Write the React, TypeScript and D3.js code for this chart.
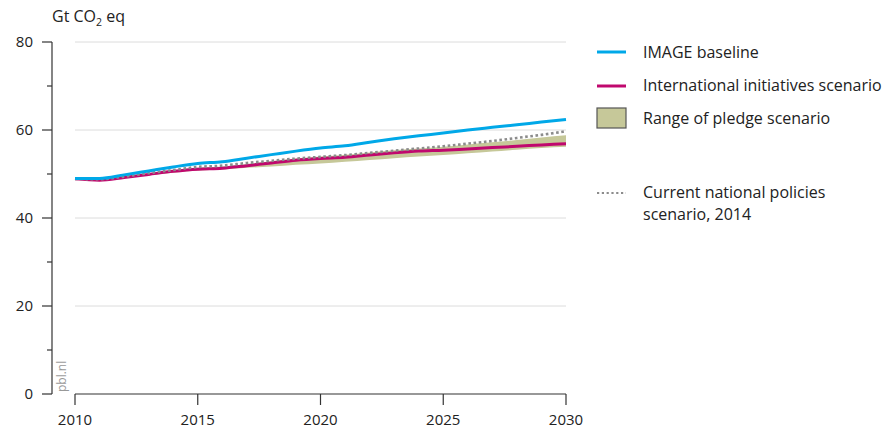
import * as d3 from "d3";

const years = [2010, 2011, 2012, 2013, 2014, 2015, 2016, 2017, 2018, 2019, 2020, 2021, 2022, 2023, 2024, 2025, 2026, 2027, 2028, 2029, 2030];
const imageBaseline = [49.0, 49.0, 49.8, 50.7, 51.6, 52.4, 52.8, 53.6, 54.4, 55.2, 55.9, 56.4, 57.2, 58.0, 58.7, 59.3, 60.0, 60.6, 61.2, 61.8, 62.4];
const internationalInitiatives = [48.9, 48.6, 49.2, 49.9, 50.6, 51.1, 51.3, 51.9, 52.5, 53.1, 53.5, 53.8, 54.3, 54.8, 55.2, 55.4, 55.7, 56.0, 56.3, 56.6, 56.9];
const currentPolicies = [48.9, 48.8, 49.4, 50.2, 50.9, 51.6, 51.9, 52.5, 53.0, 53.5, 53.9, 54.3, 54.8, 55.3, 55.8, 56.3, 56.9, 57.5, 58.2, 58.9, 59.7];
const pledgeLow = [48.9, 48.6, 49.1, 49.7, 50.3, 50.8, 51.0, 51.4, 51.7, 52.1, 52.4, 52.8, 53.2, 53.6, 54.0, 54.3, 54.7, 55.1, 55.5, 55.9, 56.2];
const pledgeHigh = [48.9, 48.7, 49.4, 50.1, 50.8, 51.4, 51.7, 52.3, 52.9, 53.5, 54.0, 54.4, 54.9, 55.4, 55.8, 56.2, 56.7, 57.2, 57.7, 58.3, 58.8];
const yTicks = [0, 20, 40, 60, 80];
const yMinorTicks = [10, 30, 50, 70];
const xTicks = [2010, 2015, 2020, 2025, 2030];

const font = "'Open Sans', sans-serif";

export default function App() {
  const width = 889;
  const height = 429;
  const x = d3.scaleLinear([2010, 2030], [75, 566]);
  const y = d3.scaleLinear([0, 80], [394, 42]);

  const rows = years.map((yr, i) => ({
    yr,
    base: imageBaseline[i],
    intl: internationalInitiatives[i],
    cur: currentPolicies[i],
    lo: pledgeLow[i],
    hi: pledgeHigh[i],
  }));

  const curve = d3.curveMonotoneX;
  const lineOf = (key: "base" | "intl" | "cur") =>
    d3.line<any>().x(d => x(d.yr)).y(d => y(d[key])).curve(curve)(rows) || "";
  const band = d3.area<any>().x(d => x(d.yr)).y0(d => y(d.lo)).y1(d => y(d.hi)).curve(curve)(rows) || "";

  const axisX = 52;

  return (
    <svg width={width} height={height} style={{ position: "absolute", left: 0, top: 0, fontFamily: font }}>
      <rect width={width} height={height} fill="white" />
      {/* gridlines */}
      {yTicks.filter(t => t > 0).map(t => (
        <line key={t} x1={x(2010)} x2={x(2030)} y1={y(t)} y2={y(t)} stroke="#dcdcdc" strokeWidth={1} />
      ))}
      {/* y axis */}
      <line x1={axisX} x2={axisX} y1={y(80)} y2={y(0)} stroke="#333" strokeWidth={1.2} />
      {yTicks.map(t => (
        <g key={t}>
          <line x1={axisX - 10} x2={axisX} y1={y(t)} y2={y(t)} stroke="#333" strokeWidth={1.2} />
          <text x={axisX - 19} y={y(t)} dy="0.35em" textAnchor="end" fontSize={15} fill="#222">{t}</text>
        </g>
      ))}
      {yMinorTicks.map(t => (
        <line key={t} x1={axisX - 5} x2={axisX} y1={y(t)} y2={y(t)} stroke="#333" strokeWidth={1.2} />
      ))}
      <text x={axisX} y={22} fontSize={16} fill="#222">
        Gt CO<tspan dy={4} fontSize={10.5}>2</tspan><tspan dy={-4}> eq</tspan>
      </text>
      {/* x axis */}
      <line x1={x(2010)} x2={x(2030)} y1={y(0)} y2={y(0)} stroke="#333" strokeWidth={1.2} />
      {xTicks.map(t => (
        <g key={t}>
          <line x1={x(t)} x2={x(t)} y1={y(0)} y2={y(0) + 11} stroke="#333" strokeWidth={1.2} />
          <text x={x(t)} y={425} textAnchor="middle" fontSize={15} fill="#222">{t}</text>
        </g>
      ))}
      <text transform={`translate(66, 392) rotate(-90)`} fontSize={12} fill="#999">pbl.nl</text>
      {/* data */}
      <path d={band} fill="#c6c899" />
      <path d={lineOf("intl")} fill="none" stroke="#c0086e" strokeWidth={3} />
      <path d={lineOf("cur")} fill="none" stroke="#8c8c8c" strokeWidth={2.6} strokeDasharray="2.6,2.6" />
      <path d={lineOf("base")} fill="none" stroke="#00a8e8" strokeWidth={3} />
      {/* legend */}
      <g fontSize={16} fill="#222">
        <line x1={597} x2={626} y1={52} y2={52} stroke="#00a8e8" strokeWidth={3} />
        <text x={643} y={52} dy="0.35em">IMAGE baseline</text>
        <line x1={597} x2={626} y1={86} y2={86} stroke="#c0086e" strokeWidth={3} />
        <text x={643} y={85} dy="0.35em">International initiatives scenario</text>
        <rect x={597} y={108} width={29} height={20} fill="#c6c899" stroke="#555" strokeWidth={1.2} />
        <text x={643} y={118} dy="0.35em">Range of pledge scenario</text>
        <line x1={597} x2={626} y1={193} y2={193} stroke="#8c8c8c" strokeWidth={2.2} strokeDasharray="2.2,2.6" />
        <text x={643} y={192} dy="0.35em">Current national policies</text>
        <text x={643} y={214} dy="0.35em">scenario, 2014</text>
      </g>
    </svg>
  );
}
